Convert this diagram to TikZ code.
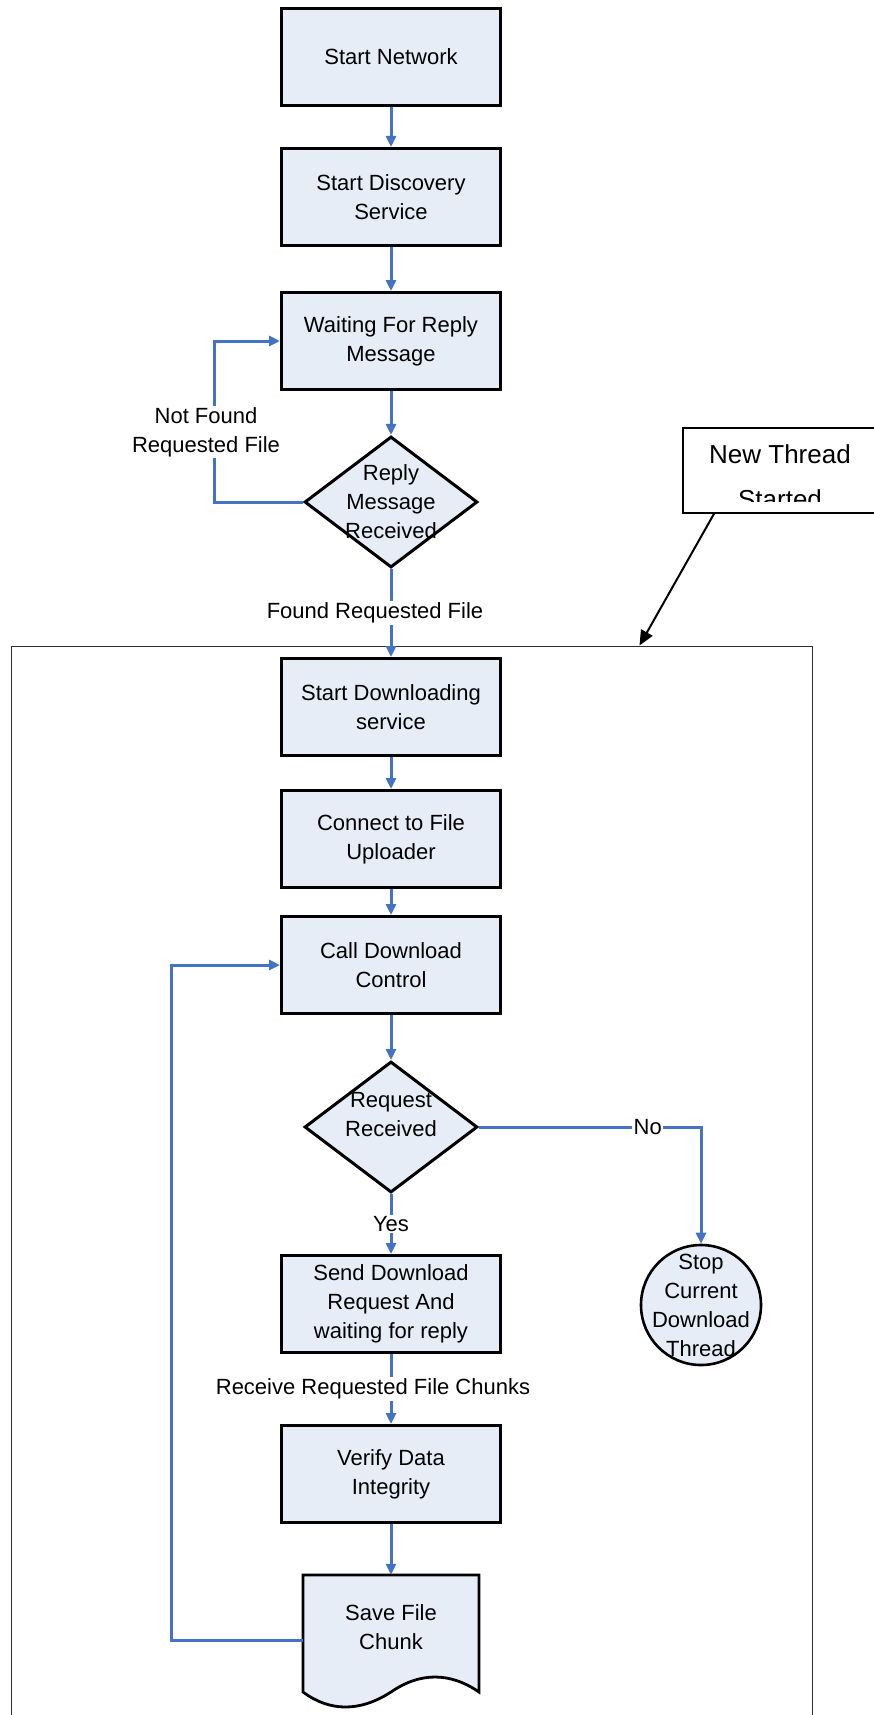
\documentclass[tikz,border=0pt]{standalone}
\usepackage{fontspec}
\setmainfont{Liberation Sans}
\usetikzlibrary{shapes.geometric,arrows.meta,calc}
\definecolor{flowblue}{RGB}{68,114,196}
\definecolor{boxfill}{RGB}{231,237,247}
\definecolor{framegray}{RGB}{45,45,45}

\begin{document}
\begin{tikzpicture}[x=1pt,y=-1pt,
  every node/.style={font=\fontsize{22}{29}\selectfont},
  process/.style={draw=black, line width=3pt, fill=boxfill,
    minimum width=219pt, minimum height=97pt, align=center, inner sep=0pt},
  decision/.style={diamond, draw=black, line width=3pt, fill=boxfill,
    minimum width=173pt, minimum height=131pt, inner sep=0pt},
  terminal/.style={circle, draw=black, line width=2.6pt, fill=boxfill,
    minimum size=120pt, inner sep=0pt},
  flow/.style={draw=flowblue, line width=3pt,
    -{Triangle[width=10pt,length=11pt]}},
  edgelabel/.style={fill=white, inner sep=1.5pt, align=center},
  multiline/.style={align=center},
]
\useasboundingbox (0,0) rectangle (874,1715);

% thread frame
\node[draw=framegray, line width=1.3pt, minimum width=801pt,
  minimum height=1120pt, anchor=north west, inner sep=0pt]
  (thread) at (10.5,645.5) {};

% discovery part
\node[process] (net)  at (391,57)  {Start Network};
\node[process] (disc) at (391,197) {Start Discovery\\Service};
\node[process] (wait) at (391,341) {Waiting For Reply\\Message};
\node[decision, label={[multiline]center:Reply\\Message\\Received}]
  (rep) at (391,502) {};

% download part
\node[process] (dl)   at (391,707)  {Start Downloading\\service};
\node[process] (conn) at (391,839)  {Connect to File\\Uploader};
\node[process] (call) at (391,965)  {Call Download\\Control};
\node[decision, label={[multiline,yshift=12pt]center:Request\\Received}]
  (req) at (391,1127) {};
\node[terminal, label={[multiline]center:Stop\\Current\\Download\\Thread}]
  (stop) at (701,1305) {};
\node[process] (send) at (391,1304) {Send Download\\Request And\\waiting for reply};
\node[process] (ver)  at (391,1474) {Verify Data\\Integrity};

% document shape for saving a chunk
\draw[line width=2.8pt, fill=boxfill] (303,1575) -- (479,1575) -- (479,1692)
  .. controls (450,1672) and (420,1672) .. (391,1692)
  .. controls (360,1712) and (330,1712) .. (303,1692) -- cycle;
\node[minimum width=176pt, minimum height=130pt, inner sep=0pt,
  label={[multiline,yshift=13pt]center:Save File\\Chunk}]
  (save) at (391,1640) {};

% note box with clipped text
\node[draw=black, line width=1.8pt, fill=white, minimum width=230pt,
  minimum height=85pt, anchor=north west, inner sep=0pt] (nt) at (682,427) {};
\begin{scope}
  \clip (684,429) rectangle (874,501);
  \node[font=\fontsize{26}{30}\selectfont, anchor=base] (ntone) at (780,463) {New Thread};
  \node[font=\fontsize{26}{30}\selectfont, anchor=base] (nttwo) at (780,508) {Started};
\end{scope}
\draw[black, line width=2pt, -{Triangle[width=13pt,length=15pt]}]
  ([xshift=32pt]nt.south west) -- ([xshift=629pt]thread.north west);

% connectors
\coordinate (nfcorner) at (214,341);
\coordinate (loopcorner) at (171,965);

\draw[flow] (net) -- (disc);
\draw[flow] (disc) -- (wait);
\draw[flow] (wait) -- (rep);
\draw[flow] (rep.west) -| (nfcorner) -- (wait.west);
\node[edgelabel] (nflab) at (206,432) {Not Found\\Requested File};
\draw[flow] (rep.south) -- node[edgelabel, xshift=-16pt] {Found Requested File} (dl.north);

\draw[flow] (dl) -- (conn);
\draw[flow] (conn) -- (call);
\draw[flow] (call) -- (req);
\draw[flow] (req.east) -| node[edgelabel, pos=0.38] {No} (stop.north);
\draw[flow] (req.south) -- node[edgelabel] {Yes} (send.north);
\draw[flow] (send) -- node[edgelabel, xshift=-18pt] {Receive Requested File Chunks} (ver);
\draw[flow] (ver) -- (save.north);
\draw[flow] (save.west) -| (loopcorner) -- (call.west);
\end{tikzpicture}
\end{document}
